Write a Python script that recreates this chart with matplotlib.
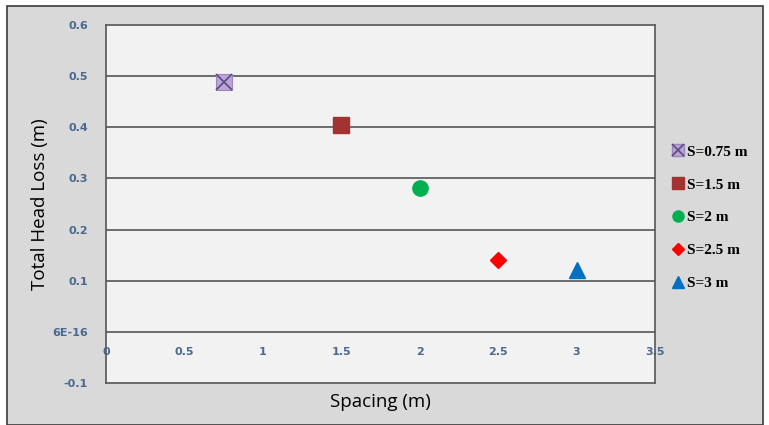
import matplotlib
matplotlib.use("Agg")
import matplotlib.pyplot as plt
from matplotlib.lines import Line2D
from matplotlib.patches import Rectangle
from matplotlib.legend_handler import HandlerTuple

# spacing between drains and the resulting head loss
spacing = [0.75, 1.5, 2.0, 2.5, 3.0]
head_loss = [0.489, 0.405, 0.282, 0.141, 0.121]
labels = ["S=0.75 m", "S=1.5 m", "S=2 m", "S=2.5 m", "S=3 m"]

y_ticks = [-0.1, 0.0, 0.1, 0.2, 0.3, 0.4, 0.5, 0.6]
y_ticklabels = ["-0.1", "6E-16", "0.1", "0.2", "0.3", "0.4", "0.5", "0.6"]
x_ticks = [0, 0.5, 1, 1.5, 2, 2.5, 3, 3.5]
x_ticklabels = ["0", "0.5", "1", "1.5", "2", "2.5", "3", "3.5"]

W, H = 769, 425
fig = plt.figure(figsize=(W / 100, H / 100), dpi=100)
fig.patch.set_facecolor("white")
fig.patches.append(Rectangle((7 / W, 0), 756 / W, 1 - 6 / H, transform=fig.transFigure,
                             facecolor="#d9d9d9", edgecolor="#3a3a3a", linewidth=1.2, zorder=0))

ax = fig.add_axes([106 / W, 1 - 383 / H, (655 - 106) / W, (383 - 25) / H])
ax.set_zorder(2)
ax.set_facecolor("#f2f2f2")
ax.set_xlim(0, 3.5)
ax.set_ylim(-0.1, 0.6)
for s in ax.spines.values():
    s.set_color("#555555")
    s.set_linewidth(1.2)

tick_color = "#4a6890"
ax.set_yticks(y_ticks)
ax.set_yticklabels(y_ticklabels)
ax.tick_params(axis="y", length=0, pad=13, labelsize=8, labelcolor=tick_color)
for t in ax.get_yticklabels():
    t.set_fontweight("bold")
ax.set_xticks([])
for yv in [0.0, 0.1, 0.2, 0.3, 0.4, 0.5]:
    ax.axhline(yv, color="#555555", linewidth=1.2, zorder=1)

# x tick labels sit along the zero line
sec = ax.secondary_xaxis(1 / 7)
sec.set_xticks(x_ticks)
sec.set_xticklabels(x_ticklabels)
sec.spines["bottom"].set_visible(False)
sec.tick_params(length=0, pad=11, labelsize=8, labelcolor=tick_color)
for t in sec.get_xticklabels():
    t.set_fontweight("bold")

ms = 11
ax.plot(spacing[0], head_loss[0], "s", ms=ms, mfc="#b9a6d6", mec="#9b85c0", mew=0.8, zorder=3)
ax.plot(spacing[0], head_loss[0], "x", ms=ms, mec="#5f4a7d", mew=1.2, zorder=4)
ax.plot(spacing[1], head_loss[1], "s", ms=ms, color="#a33330", zorder=3)
ax.plot(spacing[2], head_loss[2], "o", ms=ms, color="#00b050", zorder=3)
ax.plot(spacing[3], head_loss[3], "D", ms=ms * 0.75, color="#ff0000", zorder=3)
ax.plot(spacing[4], head_loss[4], "^", ms=ms, color="#0070c0", zorder=3)

ax.set_ylabel("Total Head Loss (m)", fontsize=13.5, family="Open Sans", labelpad=2)
ax.set_xlabel("Spacing (m)", fontsize=13.5, family="Open Sans", labelpad=7)

lms = 8
handles = [
    (Line2D([], [], ls="", marker="s", ms=lms, mfc="#b9a6d6", mec="#9b85c0"),
     Line2D([], [], ls="", marker="x", ms=lms, mec="#5f4a7d", mew=1.2)),
    Line2D([], [], ls="", marker="s", ms=lms, color="#a33330"),
    Line2D([], [], ls="", marker="o", ms=lms, color="#00b050"),
    Line2D([], [], ls="", marker="D", ms=lms * 0.75, color="#ff0000"),
    Line2D([], [], ls="", marker="^", ms=lms, color="#0070c0"),
]
leg = fig.legend(handles, labels, loc="upper left", bbox_to_anchor=(665 / W, 1 - 139 / H),
                 frameon=False, handler_map={tuple: HandlerTuple(ndivide=1, pad=0)},
                 prop={"family": "Liberation Serif", "size": 11, "weight": "bold"},
                 labelspacing=1.25, handlelength=0.9, handletextpad=0.15, borderaxespad=0)

fig.savefig("out.png", dpi=100)
